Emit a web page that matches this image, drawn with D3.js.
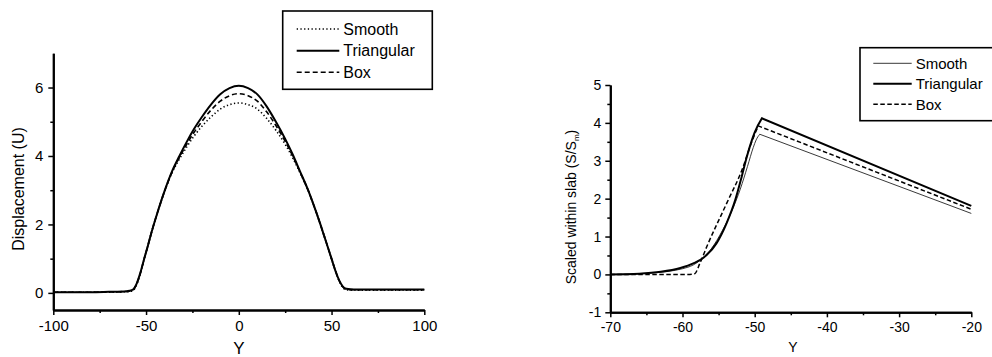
<!DOCTYPE html>
<html><head><meta charset="utf-8">
<script src="https://cdn.jsdelivr.net/npm/d3@7"></script>
<style>
body{margin:0;background:#fff;}
svg{display:block;}
text{font-family:"Liberation Sans",Arial,sans-serif;fill:#000;}
</style></head>
<body>
<svg id="c" width="992" height="357"></svg>
<script>
// ---------- Left panel data (Displacement vs Y) ----------
const leftY = [-100,-80,-70,-62,-59,-57,-55,-53,-51,-49,-47,-44,-40,-36,-32,-28,-24,-20,-15,-10,-5,0,5,10,15,20,25,29,33,37,40,44,47,50,52,54,56,58,62,70,80,100];
const leftTriangular = [0.02,0.02,0.03,0.04,0.06,0.1,0.28,0.6,1.0,1.38,1.78,2.32,2.98,3.55,4.0,4.42,4.8,5.13,5.5,5.8,5.98,6.05,5.98,5.8,5.45,5.0,4.5,4.05,3.55,3.05,2.62,2.0,1.5,1.0,0.66,0.38,0.19,0.12,0.1,0.1,0.1,0.1];
const leftBox        = [0.02,0.02,0.03,0.04,0.05,0.09,0.27,0.59,1.0,1.38,1.78,2.32,2.97,3.53,3.96,4.35,4.7,5.0,5.34,5.6,5.76,5.82,5.76,5.6,5.29,4.89,4.43,4.01,3.53,3.05,2.62,2.0,1.5,1.0,0.66,0.37,0.18,0.1,0.09,0.09,0.09,0.09];
const leftSmooth     = [0.02,0.02,0.02,0.03,0.04,0.07,0.25,0.58,0.99,1.38,1.78,2.32,2.97,3.51,3.91,4.27,4.59,4.86,5.14,5.37,5.5,5.55,5.5,5.37,5.1,4.75,4.34,3.95,3.51,3.04,2.62,2.0,1.5,0.99,0.65,0.36,0.16,0.09,0.08,0.08,0.08,0.08];
const leftXTicks = [-100,-50,0,50,100];
const leftXMinor = [-75,-25,25,75];
const leftYTicks = [0,2,4,6];
const leftYMinor = [1,3,5];

// ---------- Right panel data (Scaled within slab vs Y) ----------
const rightTriY = [-70,-66,-63,-60.3,-58.5,-57.1,-55.3,-53.9,-52.7,-51.8,-51.1,-50.4,-50,-49,-20];
const rightTriS = [0,0.02,0.07,0.17,0.29,0.44,0.82,1.35,1.96,2.58,3.1,3.54,3.75,4.12,1.81];
const rightBoxY = [-70,-59,-58.3,-57.6,-56.6,-53.9,-51.6,-50.6,-50,-49.5,-20];
const rightBoxS = [0,0,0.02,0.29,0.75,1.87,2.84,3.4,3.7,3.92,1.72];
const rightSmoothY = [-70,-65,-62,-60,-58.5,-57.5,-56,-54.5,-53,-52,-51,-50.2,-49.8,-49.3,-20];
const rightSmoothS = [0,0.03,0.08,0.15,0.25,0.38,0.68,1.15,1.75,2.25,2.85,3.35,3.55,3.7,1.61];
const rightXTicks = [-70,-60,-50,-40,-30,-20];
const rightXMinor = [-65,-55,-45,-35,-25];
const rightYTicks = [-1,0,1,2,3,4,5];
const rightYMinor = [-0.5,0.5,1.5,2.5,3.5,4.5];

const legendLabels = ["Smooth","Triangular","Box"];

const svg = d3.select("#c");

function axes(g, x, y, xt, xm, yt, ym, fs, ypad){
  const xa = g.append("g").attr("transform",`translate(0,${y.range()[0]})`)
    .call(d3.axisBottom(x).tickValues(xt).tickSize(5).tickSizeOuter(0).tickPadding(5).tickFormat(d3.format("d")));
  const xm2 = g.append("g").attr("transform",`translate(0,${y.range()[0]})`)
    .call(d3.axisBottom(x).tickValues(xm).tickSize(3).tickSizeOuter(0).tickFormat(""));
  const ya = g.append("g").attr("transform",`translate(${x.range()[0]},0)`)
    .call(d3.axisLeft(y).tickValues(yt).tickSize(5).tickSizeOuter(0).tickPadding(ypad).tickFormat(d3.format("d")));
  const ym2 = g.append("g").attr("transform",`translate(${x.range()[0]},0)`)
    .call(d3.axisLeft(y).tickValues(ym).tickSize(3).tickSizeOuter(0).tickFormat(""));
  [xa,xm2,ya,ym2].forEach(a=>{
    a.select(".domain").attr("stroke","#000").attr("stroke-width",2);
    a.selectAll(".tick line").attr("stroke","#000").attr("stroke-width",1.5);
    a.selectAll("text").attr("font-size",fs).attr("font-family","Liberation Sans, Arial, sans-serif").attr("fill","#000");
  });
  xa.selectAll("text").text(d=>d<0?"-"+Math.abs(d):d);
  ya.selectAll("text").text(d=>d<0?"-"+Math.abs(d):d);
}

// ---------- Left panel ----------
const gl = svg.append("g");
const xL = d3.scaleLinear().domain([-100,100]).range([53.3,424.3]);
const yL = d3.scaleLinear().domain([-0.5,7]).range([310,53.3]);
axes(gl, xL, yL, leftXTicks, leftXMinor, leftYTicks, leftYMinor, 15, 5);

const lineL = d3.line().x((d,i)=>xL(leftY[i])).y(d=>yL(d)).curve(d3.curveMonotoneX);
const stylesL = {
  Smooth:{w:1.6,dash:"1.3,2.4",data:leftSmooth},
  Triangular:{w:2,dash:null,data:leftTriangular},
  Box:{w:1.6,dash:"5,3",data:leftBox}
};
legendLabels.forEach(k=>{
  const s = stylesL[k];
  gl.append("path").attr("d",lineL(s.data)).attr("fill","none").attr("stroke","#000")
    .attr("stroke-width",s.w).attr("stroke-dasharray",s.dash);
});
gl.append("text").attr("x",238.8).attr("y",354).attr("text-anchor","middle").attr("font-size",17).text("Y");
gl.append("text").attr("transform","translate(23.5,189) rotate(-90)").attr("text-anchor","middle").attr("font-size",16).text("Displacement (U)");

// left legend
const lgL = gl.append("g");
lgL.append("rect").attr("x",282.7).attr("y",11).attr("width",149.6).attr("height",78.3)
  .attr("fill","#fff").attr("stroke","#000").attr("stroke-width",1.6);
const legYL = d3.scalePoint().domain(legendLabels).range([29,72.3]);
legendLabels.forEach(k=>{
  const s = stylesL[k];
  lgL.append("line").attr("x1",296.7).attr("x2",339.3).attr("y1",legYL(k)).attr("y2",legYL(k))
    .attr("stroke","#000").attr("stroke-width",s.w).attr("stroke-dasharray",s.dash);
  lgL.append("text").attr("x",343.3).attr("y",legYL(k)).attr("dy","0.36em").attr("font-size",16).text(k);
});

// ---------- Right panel ----------
const gr = svg.append("g");
const xR = d3.scaleLinear().domain([-70,-20]).range([610.3,971.3]);
const yR = d3.scaleLinear().domain([-1,5]).range([312.3,85]);
axes(gr, xR, yR, rightXTicks, rightXMinor, rightYTicks, rightYMinor, 14, 4);

// smooth rise (monotone) up to the peak, then straight decline
function rightPath(xs, ys){
  const pk = d3.maxIndex(ys);
  const rise = d3.line().x((d,i)=>xR(xs[i])).y(d=>yR(d)).curve(d3.curveMonotoneX)(ys.slice(0,pk+1));
  const fall = d3.line().x((d,i)=>xR(xs[pk+i])).y(d=>yR(d)).curve(d3.curveLinear)(ys.slice(pk));
  return rise + "L" + fall.slice(1);
}
const stylesR = {
  Smooth:{w:0.9,dash:null,xs:rightSmoothY,data:rightSmoothS,color:"#222"},
  Triangular:{w:2,dash:null,xs:rightTriY,data:rightTriS,color:"#000"},
  Box:{w:1.5,dash:"4.5,2.5",xs:rightBoxY,data:rightBoxS,color:"#000"}
};
legendLabels.forEach(k=>{
  const s = stylesR[k];
  gr.append("path").attr("d",rightPath(s.xs,s.data)).attr("fill","none").attr("stroke",s.color)
    .attr("stroke-width",s.w).attr("stroke-dasharray",s.dash).attr("stroke-linejoin","miter");
});
gr.append("text").attr("x",793).attr("y",352).attr("text-anchor","middle").attr("font-size",14).text("Y");
const yt = gr.append("text").attr("transform","translate(576,207) rotate(-90)").attr("text-anchor","middle").attr("font-size",14);
yt.append("tspan").text("Scaled within slab (S/S");
yt.append("tspan").attr("font-size",8).attr("dy",3).text("m");
yt.append("tspan").attr("dy",-3).text(")");

// right legend
const lgR = gr.append("g");
lgR.append("rect").attr("x",860).attr("y",47.7).attr("width",140).attr("height",73)
  .attr("fill","#fff").attr("stroke","#000").attr("stroke-width",1.6);
const legYR = d3.scalePoint().domain(legendLabels).range([63.3,104.3]);
legendLabels.forEach(k=>{
  const s = stylesR[k];
  lgR.append("line").attr("x1",873.3).attr("x2",911.7).attr("y1",legYR(k)).attr("y2",legYR(k))
    .attr("stroke",s.color).attr("stroke-width",s.w).attr("stroke-dasharray",s.dash);
  lgR.append("text").attr("x",915.7).attr("y",legYR(k)).attr("dy","0.36em").attr("font-size",15).text(k);
});
</script>
</body></html>
